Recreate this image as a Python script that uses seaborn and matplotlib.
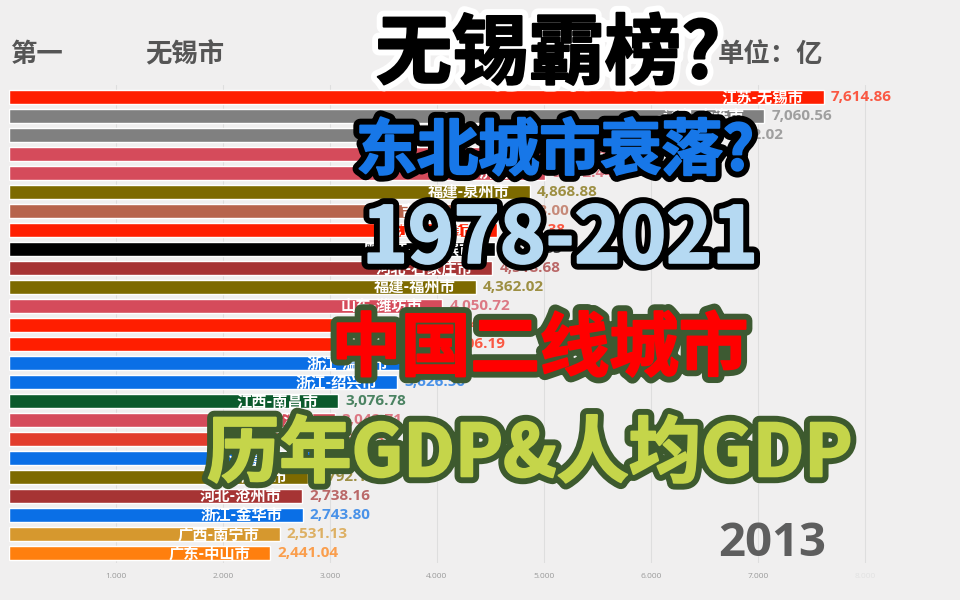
import pandas as pd
import matplotlib.pyplot as plt
import matplotlib.patheffects as pe
import seaborn as sns

# Data for the 2013 frame of the bar race
cities = ['江苏-无锡市', '辽宁-大连市', '辽宁-沈阳市', '山东-烟台市', '山东-济南市',
          '福建-泉州市', '吉林-长春市', '江苏-南通市', '黑龙江-哈尔滨市', '河北-石家庄市',
          '福建-福州市', '山东-潍坊市', '江苏-徐州市', '江苏-常州市', '浙江-温州市',
          '浙江-绍兴市', '江西-南昌市', '山东-临沂市', '江苏-扬州市', '浙江-嘉兴市',
          '福建-厦门市', '河北-沧州市', '浙江-金华市', '广西-南宁市', '广东-中山市']
values = [7614.86, 7060.56, 6602.02, 5430.26, 5012.44,
          4868.88, 4608.00, 4563.38, 4540.85, 4518.68,
          4362.02, 4050.72, 4040.54, 4006.19, 3732.24,
          3626.50, 3076.78, 3042.71, 2958.33, 2861.47,
          2792.10, 2738.16, 2743.80, 2531.13, 2441.04]
bar_colors = ['#ff1e00', '#808080', '#808080', '#d54b5b', '#d54b5b',
              '#7d6a00', '#b7644c', '#ff1e00', '#000000', '#a63434',
              '#7d6a00', '#d54b5b', '#ff1e00', '#ff1e00', '#0a6fe6',
              '#0a6fe6', '#0b5a2c', '#d54b5b', '#e23d2d', '#0a6fe6',
              '#7d6a00', '#a63434', '#0a6fe6', '#d6982e', '#ff7f0e']
x_ticks = [1000, 2000, 3000, 4000, 5000, 6000, 7000, 8000]
x_tick_labels = ['1.000', '2.000', '3.000', '4.000', '5.000', '6.000', '7.000', '8.000']
year = '2013'

bg = '#f0efef'
sns.set_theme(style='white')
plt.rcParams['font.family'] = ['Noto Sans CJK SC', 'DejaVu Sans']
num_font = ['Open Sans', 'DejaVu Sans']

fig = plt.figure(figsize=(9.6, 6), dpi=100)
fig.patch.set_facecolor(bg)

# axes placed so that 1000 units ~ 107 px, rows every 19 px
px = 0.107  # pixels per unit
ax = fig.add_axes([9 / 960, 1 - 563 / 600, 951 / 960, 478 / 600])
ax.set_facecolor(bg)

df = pd.DataFrame({'city': cities, 'value': values})
sns.barplot(data=df, x='value', y='city', hue='city', order=cities, hue_order=cities,
            palette=dict(zip(cities, bar_colors)), saturation=1, width=0.74,
            legend=False, ax=ax)

ax.set_xlim(0, 951 / px)
ax.set_ylim(24.526, -0.632)
ax.set_xlabel('')
ax.set_ylabel('')
ax.set_yticks([])
ax.set_xticks(x_ticks)
ax.set_xticklabels(x_tick_labels, fontsize=6, color='#9a9a9a', family=num_font)
ax.get_xticklabels()[-1].set_color('#e2e2e2')
ax.tick_params(axis='x', length=0, pad=7)
ax.grid(axis='x', color='#dedede', lw=0.8)
ax.set_axisbelow(True)
for s in ax.spines.values():
    s.set_visible(False)

# bar labels and values
for i, (c, v, col) in enumerate(zip(cities, values, bar_colors)):
    ax.text(v - 20 / px, i, c, ha='right', va='center', color='white',
            fontsize=11, fontweight='bold')
    ax.text(v + 7 / px, i, f'{v:,.2f}', ha='left', va='center', color=col, alpha=0.72,
            fontsize=11, fontweight='bold', family=num_font)

# header texts
def fx(x):
    return x / 960

def fy(y):
    return 1 - y / 600

fig.text(fx(10), fy(55), '第一', fontsize=19, fontweight='bold', color='#555555', va='center')
fig.text(fx(145), fy(55), '无锡市', fontsize=19, fontweight='bold', color='#555555', va='center')
fig.text(fx(718), fy(55), '单位：亿', fontsize=19, fontweight='bold', color='#555555', va='center')
fig.text(fx(772), fy(543), year, fontsize=34, fontweight='bold', color='#5e5e5e',
         ha='center', va='center', family=num_font)

# big overlay titles (thin inner stroke in fill colour makes the glyphs heavier)
titles = [
    ('无锡霸榜?', 548, 55, 55, '#000000', 'white'),
    ('东北城市衰落?', 555, 152, 44, '#1777e8', '#000000'),
    ('1978-2021', 560, 240, 56, '#b5d9f2', '#000000'),
    ('中国二线城市', 540, 350, 50, '#ff0000', '#3d5a32'),
    ('历年GDP&人均GDP', 530, 455, 52, '#c5d54a', '#3d5a2e'),
]
for txt, x, y, size, col, edge in titles:
    fig.text(fx(x), fy(y), txt, fontsize=size, fontweight='heavy', color=col,
             ha='center', va='center',
             path_effects=[pe.Stroke(linewidth=10, foreground=edge),
                           pe.Stroke(linewidth=1.5, foreground=col), pe.Normal()])

plt.savefig('out.png', dpi=100, facecolor=bg)
